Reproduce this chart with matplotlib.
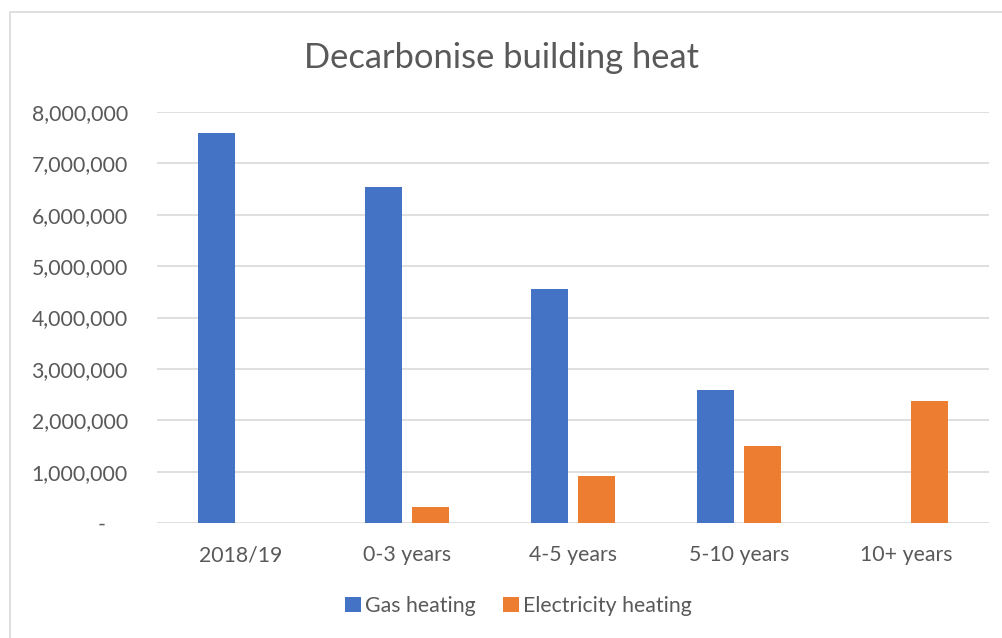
import numpy as np
import matplotlib.pyplot as plt
from matplotlib.ticker import FuncFormatter
from matplotlib.patches import Rectangle

# ========== Datos ==========
categories = ['2018/19', '0-3 years', '4-5 years', '5-10 years', '10+ years']
gas_heating = [7600000, 6540000, 4550000, 2590000, 0]
electricity_heating = [0, 320000, 920000, 1500000, 2370000]

# ========== Estilo ==========
plt.rcParams['font.family'] = ['Lato', 'DejaVu Sans']
text_color = '#595959'
blue = '#4472C4'
orange = '#ED7D31'

fig = plt.figure(figsize=(10.03, 6.38), dpi=100)
ax = fig.add_axes([157 / 1003, 1 - 523 / 638, (989 - 157) / 1003, (523 - 112) / 638])

# Borde del area del grafico
fig.patches.append(Rectangle((10 / 1003, -0.1), 1.2, 1 - 12 / 638 + 0.1, transform=fig.transFigure,
                             fill=False, edgecolor='#D9D9D9', linewidth=1.2))

x = np.arange(len(categories))
width = 0.222
ax.bar(x - 0.141, gas_heating, width, color=blue, label='Gas heating', zorder=3)
ax.bar(x + 0.141, electricity_heating, width, color=orange, label='Electricity heating', zorder=3)

ax.set_xlim(-0.5, len(categories) - 0.5)
ax.set_ylim(0, 8000000)
ax.set_yticks(np.arange(0, 8000001, 1000000))
ax.yaxis.set_major_formatter(FuncFormatter(lambda v, p: '-    ' if v == 0 else f'{int(v):,}'))
ax.set_xticks(x)
ax.set_xticklabels(categories)

ax.grid(axis='y', color='#D9D9D9', linewidth=1.2, zorder=0)
for s in ax.spines.values():
    s.set_visible(False)
ax.tick_params(length=0, labelsize=15.3, labelcolor=text_color)
ax.tick_params(axis='y', pad=21)
ax.tick_params(axis='x', pad=16)

fig.text(0.5, 1 - 58 / 638, 'Decarbonise building heat', ha='center', va='center',
         fontsize=24.8, color=text_color)

fig.legend(loc='center', bbox_to_anchor=(0.517, 1 - 606 / 638), ncol=2, frameon=False,
           fontsize=15.3, labelcolor=text_color, handlelength=0.75, handleheight=0.75,
           handletextpad=0.2, columnspacing=1.3)

plt.savefig('out.png', dpi=100)
